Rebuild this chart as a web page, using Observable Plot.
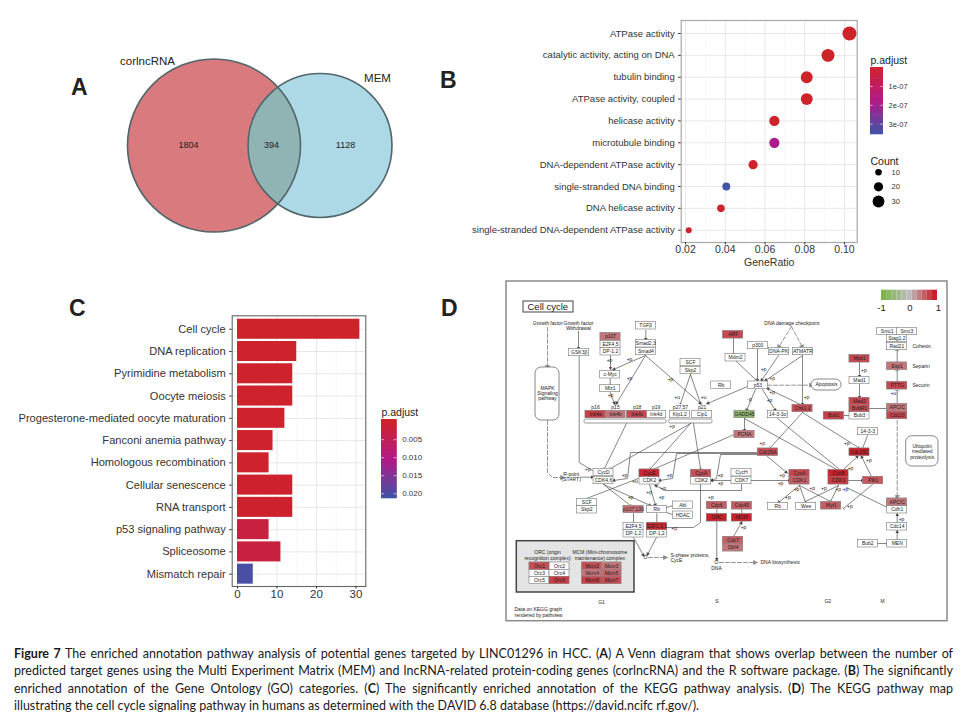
<!DOCTYPE html>
<html><head><meta charset="utf-8">
<script src="https://cdn.jsdelivr.net/npm/d3@7"></script>
<script src="https://cdn.jsdelivr.net/npm/@observablehq/plot@0.6"></script>
<style>
html,body{margin:0;padding:0;background:#fff;}
#page{position:relative;width:962px;height:722px;overflow:hidden;font-family:"Liberation Sans",Arial,sans-serif;}
#page>svg,#page>figure{position:absolute;margin:0;background:transparent;overflow:visible;}
.letter{position:absolute;font:bold 23px "Liberation Sans",Arial,sans-serif;color:#222;line-height:1;}
#caption{position:absolute;left:14px;top:645px;width:939px;font:12.5px/17.4px Lato,"Open Sans",sans-serif;color:#1a1a1a;}
#caption div{text-align:justify;text-align-last:justify;white-space:nowrap;}
#caption div:last-child{text-align-last:left;}
</style></head><body><div id="page"></div>
<script>
// ---------- Panel A: Venn ----------
const vennSets = ["corlncRNA","MEM"];
const vennTotals = [2198,1522];
const vennCx = [213.5,319.5];
const vennCy = [145,145];
const vennColors = ["#d97a7e","#add8e6"];
const vennOverlapColor = "#90b4b4";
const vennLabels = ["corlncRNA","MEM"];
const vennLabelX = [147,377];
const vennLabelY = [61,78];
const vennCounts = [1804,394,1128];
const vennCountX = [188,271,345];

// ---------- Panel B: GO dot plot ----------
const goTerms = ["ATPase activity","catalytic activity, acting on DNA","tubulin binding","ATPase activity, coupled","helicase activity","microtubule binding","DNA-dependent ATPase activity","single-stranded DNA binding","DNA helicase activity","single-stranded DNA-dependent ATPase activity"];
const goRatio = [0.1025,0.0917,0.081,0.081,0.0647,0.0647,0.054,0.0405,0.0378,0.0216];
const goCount = [38,34,30,30,24,24,20,15,14,8];
const goP = [1e-9,1e-9,2e-9,2e-9,3e-9,1.85e-7,4e-9,3.5e-7,8e-9,1.2e-8];
const goXTicks = [0.02,0.04,0.06,0.08,0.10];
const goXMinor = [0.03,0.05,0.07,0.09];
const countLegend = [10,20,30];
const goPTicks = [1e-7,2e-7,3e-7];

// ---------- Panel C: KEGG bars ----------
const keggTerms = ["Cell cycle","DNA replication","Pyrimidine metabolism","Oocyte meiosis","Progesterone-mediated oocyte maturation","Fanconi anemia pathway","Homologous recombination","Cellular senescence","RNA transport","p53 signaling pathway","Spliceosome","Mismatch repair"];
const keggCount = [31,15,14,14,12,9,8,14,14,8,11,4];
const keggP = [0.0002,0.0003,0.0004,0.0004,0.0005,0.0005,0.0005,0.0006,0.0006,0.0025,0.0025,0.0205];
const keggTicks = [0,10,20,30];
const keggMinor = [5,15,25];
const keggPTicks = [0.005,0.010,0.015,0.020];

// ---------- Panel D: KEGG cell-cycle map (name, x, y, expression) ----------
const pathwayNodes = [
["GSK3β",578.7,352,null],["p107",610,336.3,.45],["E2F4,5",610,344,null],["DP-1,2",610,351.3,null],
["TGFβ",645.3,325.3,null],["Smad2,3",645.3,343.3,null],["Smad4",645.3,351,null],
["c-Myc",609.7,374.3,null],["Miz1",609.7,388,null],["SCF",690,362,null],["Skp2",690,370,null],
["Rb",720.7,384.7,null],["ARF",732.7,334.3,.75],["Mdm2",735,357.3,null],
["Ink4a",595,414,.8],["Ink4b",615,414,.45],["Ink4c",636.7,414,.75],["Ink4d",655.7,414,null],
["Kip1,2",679.3,414,null],["Cip1",701.7,414,null],
["p300",757.3,345,null],["DNA-PK",778.3,351,null],["ATMATR",802.3,351,null],["p53",757.3,384.7,null],
["GADD45",744,414,-.7],["14-3-3σ",777.3,414,null],["Chk1,2",802,408,.7],["PCNA",744,434,.45],["Cdc25A",767.3,451.7,.7],
["Mps1",859,358.3,.75],["Mad1",859,380,null],["Mad2",859,401,.75],["BubR1",859,408,.7],["Bub3",859,415.3,null],["Bub1",833.3,415.3,.8],
["14-3-3",867.3,431,null],["Cdc25C",859,451.7,1],
["Smc1",886.7,331,null],["Smc3",906.3,331,null],["Stag1,2",896.3,338,null],["Rad21",896.3,346,null],
["Esp1",896.7,365.7,.45],["PTTG",896.7,385.3,.75],["APC/C",896.7,407.3,.45],["Cdc20",896.7,415,.75],
["CycD",603,472,null],["CDK4,6",603,480,null],["CycE",649,472.7,.95],["CDK2",649,480.3,null],
["CycA",700.7,473,.7],["CDK2",700.7,480.3,null],["CycH",741,472.3,null],["CDK7",741,480,null],
["CycA",799,473,.75],["CDK1",799,480.3,.6],["CycB",838,473.3,1],["CDK1",838,480.3,.85],["Plk1",872.7,480,.65],
["Rb",777.3,506,null],["Wee",805.7,506,null],["Myt1",830.7,505.3,.6],
["SCF",586.3,502,null],["Skp2",586.3,509.3,null],["p107,130",633,509,.45],["Rb",656.3,509,null],["Abl",682.3,504.7,null],["HDAC",682.3,514.7,null],
["E2F4,5",633,526,null],["DP-1,2",633,533.3,null],["E2F1,2,3",656.3,526,.95],["DP-1,2",656.3,533.3,null],
["Cdc6",716.3,505,.6],["ORC",716.3,517.3,1],["Cdc45",741.3,505.3,.6],["MCM",741.3,517.3,1],["Cdc7",732.7,540,.6],["Dbf4",732.7,547.3,.45],
["APC/C",896.7,501.7,.45],["Cdh1",896.7,509.3,null],["Cdc14",896.7,526.3,null],["MEN",896.7,543.3,null],["Bub2",867.3,543.3,null],
["Orc1",539,565.7,.7],["Orc2",559,565.7,null],["Orc3",539,573,null],["Orc4",559,573,null],["Orc5",539,580,null],["Orc6",559,580,.8],
["Mcm2",591.7,565.7,.7],["Mcm3",611,565.7,.45],["Mcm4",591.7,573,.45],["Mcm5",611,573,.55],["Mcm6",591.7,580,.8],["Mcm7",611,580,.7]
];
const pathwayLabels = [
["Growth factor",547.3,323.3],["Growth factor",578,323],["Withdrawal",578,327.7],
["MAPK",547,388],["Signaling",547,393],["pathway",547,398],
["p16",595,407.3],["p15",615,407.3],["p18",636.7,407.3],["p19",655.7,407.3],["p27,57",680,407.3],["p21",701.7,407.3],
["DNA damage checkpoint",791.3,323.3],["Apoptosis",826,384.3],
["Ubiquitin",921.7,446],["mediated",921.7,451],["proteolysis",921.7,457],
["R-point",570.7,474.3],["(START)",570.7,479],
["ORC (origin",547,552],["recognition complex)",547,558.3],["MCM (Mini-chromosome",599.3,552],["maintenance) complex",599.3,558.3],
["DNA",716,567.7],["O",645,557.3],["O",716,562],
["G1",601,601.7],["S",716.3,601],["G2",827.3,601],["M",882,601]
];
const pathwayLeftLabels = [
["Cohesin",912,346],["Separin",912,366],["Securin",912,385.3],
["S-phase proteins,",670,555.3],["CycE",670,560],["DNA biosynthesis",760,562.3],
["Data on KEGG graph",514,609],["rendered by pathview",514,615]
];
const arrowEdges = [
[[578,331],[578,348]],[[610,355],[610,368]],[[645,355],[613,369]],[[645.3,330],[645.3,339]],[[645,355],[616,403]],[[645,355],[700,403]],
[[609.7,392],[614,403]],[[747,386],[707,403]],[[757,349],[757,380]],[[778,355],[761,380]],[[802,355],[765,380]],[[802,355],[802,404]],
[[800,404],[767,388]],[[755,389],[746,410]],[[762,389],[775,410]],[[744,418],[744,430]],[[767,456],[786,472]],
[[751,480],[789,480]],[[731,480],[711,480]],[[741,484],[741,490],[665,490],[655,485]],
[[649,484],[655,505]],[[603,484],[650,505]],[[757,452],[630,452],[627,478],[613,480]],[[757,453],[676,453],[672,478],[659,480]],[[757,454],[720,454],[716,478],[711,480]],
[[633,537],[643,555]],[[656,537],[647,554]],[[716.3,521],[716.3,559]],[[733,536],[741,522]],
[[799,485],[778,502]],[[848,480],[862,480]],[[843,469],[857,456]],[[871,476],[861,456]],
[[859,362],[859,376]],[[859,384],[859,397]],[[896.7,522],[896.7,514]],[[896.7,539],[896.7,531]],[[580,476.7],[592,476.7]]
];
const teeEdges = [
[[609.7,378],[609.7,384]],[[690,374],[680,403]],[[690,374],[700,403]],[[735,360],[755,379]],[[733,338],[733,353]],
[[802,412],[770,447]],[[802,412],[858,447]],[[626,423],[604,468]],[[690,423],[610,468]],[[690,423],[650,468]],[[693,423],[700,468]],
[[603,484],[630,505]],[[656.3,513],[656.3,522]],[[633,513],[633,522]],[[867,435],[862,448]],[[869,408],[886,408]],
[[896.7,362],[896.7,350]],[[896.7,381],[896.7,370]],[[896.7,403],[896.7,390]],[[877,543],[886,543]],
[[799,485],[805,502]],[[799,485],[830,501]],[[838,485],[805,501]],[[838,485],[830,501]],[[846,487],[887,507]],[[872,484],[843,508]]
];
const plainEdges = [
[[578.7,356],[578.7,462],[592,470]],[[744,418],[838,470]],[[777,418],[838,468]],[[586,498],[638,478]],
[[700,484],[700,522],[693,527],[666,527]],[[666,507],[673,505]],[[666,512],[672,514]],[[716.3,509],[716.3,513]],[[741.3,509],[741.3,513]],[[843,415],[849,415]],[[734,434],[650,470]]
];
const dashedEdges = [
[[547,327],[547,367]],[[547,420],[547,472],[552,477],[562,477]],[[791,326],[778,347]],[[791,326],[802,347]],[[767,384.7],[811,384.7]],
[[648,557],[665,557]],[[719,562],[755,562]],[[896.7,420],[896.7,497]]
];
const edgeSigns = [
["+p",609,360],["+p",629,359],["+p",629,378],["+p",670,379],["+p",610,395],["+u",676.7,396.7],["+u",703,396.7],["+p",671.7,426],
["+p",763,368.7],["+p",771.7,378.3],["+p",771.7,391.7],["+p",806,396.7],["-p",749,399],["+p",769,400],["+p",863.3,369.7],["+u",893,393.3],["+p",761.7,442.7],["+p",846.3,442.7],
["+p",587.3,468.7],["+p",624,475],["+u",634.3,480.7],["+p",669,475],["+p",720,475],["+p",720,483.3],["+p",662.7,488.3],["+p",630,496.7],["+p",648.7,491.7],["+p",661,496.7],["+p",710.3,497.3],["+p",673.7,528.3],["+p",743,527.3],
["+p",781.7,475],["+p",780,483.3],["+p",796,489.3],["+p",787.3,497.3],["+p",811.7,488.3],["+p",823.3,488.3],["+p",837.7,489.3],["+p",845,489.3],["+p",849.3,506],["+p",850,467.7],["+p",868.3,460.3],["+p",901,518.7]
];
const stripValues = [-1,-.8,-.6,-.4,-.2,0,.2,.4,.6,.8,1];
const stripTicks = [-1,0,1];

// ---------- helpers ----------
const page = document.getElementById("page");
function place(node,left,top){node.style.left=left+"px";node.style.top=top+"px";page.appendChild(node);return node;}
const font = {fontFamily:'"Liberation Sans",Arial,sans-serif',background:"transparent",overflow:"visible"};
const pRed="#cf2329",pMid="#b31a87",pBlue="#3f54a6";
const ink="#333";

// ---------- A ----------
const vennRows = vennSets.map((s,i)=>({s,n:vennTotals[i],x:vennCx[i],y:vennCy[i]}));
function vennLens(index,{x,y,r}){
  const g=d3.create("svg:g");
  g.append("clipPath").attr("id","venn-left").append("circle").attr("cx",x(vennRows[0].x)).attr("cy",y(vennRows[0].y)).attr("r",r(vennRows[0].n));
  g.append("circle").attr("cx",x(vennRows[1].x)).attr("cy",y(vennRows[1].y)).attr("r",r(vennRows[1].n)).attr("fill",vennOverlapColor).attr("clip-path","url(#venn-left)");
  return g.node();
}
place(Plot.plot({width:350,height:210,margin:0,style:font,
  x:{domain:[60,410],range:[0,350],axis:null},y:{domain:[40,250],range:[0,210],axis:null},
  r:{type:"sqrt",domain:[0,2198],range:[0,86.5]},
  color:{domain:vennSets,range:vennColors},
  marks:[
    Plot.dot(vennRows,{x:"x",y:"y",r:"n",fill:"s"}),
    vennLens,
    Plot.dot(vennRows,{x:"x",y:"y",r:"n",fill:"none",stroke:"#50666a",strokeWidth:1.6}),
    Plot.text(vennLabels,{x:(d,i)=>vennLabelX[i],y:(d,i)=>vennLabelY[i],text:d=>d,fontSize:11.5,fill:"#222"}),
    Plot.text(vennCounts,{x:(d,i)=>vennCountX[i],y:145,text:d=>String(d),fontSize:9,fill:"#222"})
  ]}),60,40);

// ---------- B ----------
const goRows = goTerms.map((t,i)=>({t,x:goRatio[i],n:goCount[i],p:goP[i]}));
const goColor = {type:"linear",domain:[0,1.75e-7,3.55e-7],range:[pRed,pMid,pBlue],interpolate:"rgb"};
const goR = {type:"linear",domain:[8,38],range:[3,7]};
place(Plot.plot({width:430,height:265,marginLeft:240.7,marginRight:13.3,marginTop:10,marginBottom:33,style:font,
  x:{domain:[0.0178,0.1064]},
  y:{type:"point",domain:goTerms,range:[23,219.7],padding:0,round:false},
  color:goColor,r:goR,
  marks:[
    Plot.ruleX(goXMinor,{stroke:"#f3f3f3",strokeWidth:.7}),
    Plot.ruleX(goXTicks,{stroke:"#e8e8e8",strokeWidth:1}),
    Plot.ruleY(goTerms,{stroke:"#e8e8e8",strokeWidth:1}),
    Plot.frame({stroke:"#a8a8a8",strokeWidth:1.2}),
    Plot.dot(goRows,{x:"x",y:"t",r:"n",fill:"p"}),
    Plot.axisX({ticks:goXTicks,tickFormat:".2f",tickSize:2.5,tickPadding:1,fontSize:10.5,color:ink,label:"GeneRatio",labelAnchor:"center",labelArrow:"none",labelOffset:23}),
    Plot.axisY({tickSize:2.5,tickPadding:4,fontSize:9.5,color:"#333",label:null})
  ]}),440,10);

function colorbar({left,top,width,height,domain,ticks,fmt,color,title,fontSize}){
  const dv=(domain[1]-domain[0])/60;
  const steps = d3.range(60).map(i=>({a:domain[0]+dv*i,b:domain[0]+dv*(i+1)+(i<59?dv*.6:0),m:domain[0]+dv*(i+.5)}));
  place(Plot.plot({width:width+50,height:height+16,marginLeft:0,marginRight:50,marginTop:16,marginBottom:0,style:font,
    x:{domain:[0,1],axis:null},y:{domain,reverse:true,axis:null},color,
    marks:[
      Plot.rect(steps,{x1:0,x2:1,y1:"a",y2:"b",fill:"m"}),
      Plot.ruleY(ticks,{x1:0,x2:.2,stroke:"#fff",strokeWidth:.6}),
      Plot.ruleY(ticks,{x1:.8,x2:1,stroke:"#fff",strokeWidth:.6}),
      Plot.text(ticks,{x:1,y:d=>d,dx:5,textAnchor:"start",text:d=>fmt(d),fontSize,fill:"#333"}),
      Plot.text([title],{frameAnchor:"top-left",dy:-11,textAnchor:"start",text:d=>d,fontSize:10.5,fill:"#222"})
    ]}),left,top-16);
}
colorbar({left:870,top:66.7,width:13,height:67.3,domain:[0,3.56e-7],ticks:goPTicks,
  fmt:d=>`${Math.round(d*1e7)}e-07`,color:goColor,title:"p.adjust",fontSize:7.5});

place(Plot.plot({width:70,height:62,margin:0,style:font,
  x:{domain:[0,70],range:[0,70],axis:null},y:{type:"point",domain:countLegend,range:[24.7,54],padding:0,round:false,axis:null},r:goR,
  marks:[
    Plot.dot(countLegend,{x:8,y:d=>d,r:d=>d,fill:"#000"}),
    Plot.text(countLegend,{x:21,y:d=>d,text:d=>String(d),fontSize:7.5,textAnchor:"start",fill:"#333"}),
    Plot.text(["Count"],{text:d=>d,textAnchor:"start",frameAnchor:"top-left",dy:10,fontSize:10.5,fill:"#222"})
  ]}),870,147);

// ---------- C ----------
const keggRows = keggTerms.map((t,i)=>({t,n:keggCount[i],p:keggP[i]}));
const keggColor = {type:"linear",domain:[0,0.0105,0.0214],range:[pRed,pMid,pBlue],interpolate:"rgb"};
place(Plot.plot({width:370,height:300,marginLeft:231.7,marginRight:4.7,marginTop:15.3,marginBottom:14,style:font,
  x:{domain:[-1.344,32.5]},
  y:{type:"band",domain:keggTerms,range:[16.5,285.9],padding:.1,round:false},
  color:keggColor,
  marks:[
    Plot.ruleX(keggMinor,{stroke:"#f3f3f3",strokeWidth:.7}),
    Plot.ruleX(keggTicks,{stroke:"#e8e8e8",strokeWidth:1}),
    Plot.ruleY(keggTerms,{y:d=>d,stroke:"#e8e8e8",strokeWidth:1}),
    Plot.barX(keggRows,{x:"n",y:"t",fill:"p"}),
    Plot.frame({stroke:"#666",strokeWidth:1.1}),
    Plot.axisX({ticks:keggTicks,tickSize:2.5,tickPadding:1,fontSize:11.5,color:ink,label:null}),
    Plot.axisY({tickSize:2.5,tickPadding:4,fontSize:11.1,color:"#333",label:null})
  ]}),0,300);
colorbar({left:381.3,top:418.7,width:15.7,height:79.3,domain:[-0.0006,0.0214],ticks:keggPTicks,
  fmt:d3.format(".3f"),color:keggColor,title:"p.adjust",fontSize:8});

// ---------- D ----------
const toRows = edges => edges.flatMap((e,id)=>e.map(([x,y])=>({id,x,y})));
const nodeRows = pathwayNodes.map(([name,x,y,v])=>({name,x,y,v}));
const nW=10,nH=3.7;
const koColor = {type:"linear",domain:[-1,0,1],range:["#7db54a","#bdbdbd","#c9202a"],interpolate:"rgb"};
const lineOpts = {x:"x",y:"y",z:"id",stroke:"#444",strokeWidth:.65,curve:"linear"};
const txt = {fill:"#222",fontSize:5};
const solidArrow = (color)=>d3.create("svg:marker").attr("viewBox","-5 -5 10 10").attr("markerWidth",6).attr("markerHeight",6).attr("orient","auto").attr("fill",color)
  .call(m=>m.append("path").attr("d","M-4,-4L4,0L-4,4Z")).node();
place(Plot.plot({width:455,height:352,margin:0,style:font,
  x:{domain:[500,955],range:[0,455],axis:null},y:{domain:[275,627],range:[0,352],axis:null},color:koColor,
  marks:[
    Plot.rect([[506,947,281,620.7]],{x1:d=>d[0],x2:d=>d[1],y1:d=>d[2],y2:d=>d[3],fill:"#fff",stroke:"#8a8a8a",strokeWidth:1.5}),
    Plot.rect([[516.3,634,540.7,592]],{x1:d=>d[0],x2:d=>d[1],y1:d=>d[2],y2:d=>d[3],fill:"#e4e4e4",stroke:"#444",strokeWidth:1.5}),
    Plot.rect([[523,573,301,312]],{x1:d=>d[0],x2:d=>d[1],y1:d=>d[2],y2:d=>d[3],fill:"#fff",stroke:"#444",strokeWidth:1}),
    Plot.line(toRows(plainEdges),lineOpts),
    Plot.line(toRows(arrowEdges),{...lineOpts,markerEnd:solidArrow}),
    Plot.line(toRows(teeEdges),{...lineOpts,markerEnd:"tick"}),
    Plot.line(toRows(dashedEdges),{...lineOpts,stroke:"#888",strokeDasharray:"4,2",strokeWidth:.9,markerEnd:solidArrow}),
    Plot.rect([[535,559,367,420],[811,841,379,390],[905.7,938,435.7,466]],{x1:d=>d[0],x2:d=>d[1],y1:d=>d[2],y2:d=>d[3],fill:"#fff",stroke:"#555",strokeWidth:.7,rx:6}),
    Plot.rect([[584,666,419,423],[668.7,712,419,423]],{x1:d=>d[0],x2:d=>d[1],y1:d=>d[2],y2:d=>d[3],fill:"#fff",stroke:"#555",strokeWidth:.6,rx:1.5}),
    Plot.rect(nodeRows,{x1:d=>d.x-nW,x2:d=>d.x+nW,y1:d=>d.y-nH,y2:d=>d.y+nH,fill:"#fff",stroke:"#777",strokeWidth:.6}),
    Plot.rect(nodeRows.filter(d=>d.v!=null),{x1:d=>d.x-nW,x2:d=>d.x+nW,y1:d=>d.y-nH,y2:d=>d.y+nH,fill:"v",stroke:"#888",strokeWidth:.4}),
    Plot.text(nodeRows,{x:"x",y:"y",text:"name",...txt}),
    Plot.text(pathwayLabels,{x:d=>d[1],y:d=>d[2],text:d=>d[0],...txt}),
    Plot.text(pathwayLeftLabels,{x:d=>d[1],y:d=>d[2],text:d=>d[0],textAnchor:"start",...txt}),
    Plot.text(edgeSigns,{x:d=>d[1],y:d=>d[2],text:d=>d[0],...txt}),
    Plot.text(["Cell cycle"],{x:527,y:306.5,textAnchor:"start",text:d=>d,fontSize:9.5,fill:"#222"}),
    Plot.rect(stripValues,{x1:(d,i)=>881+i*56/11,x2:(d,i)=>881+(i+1)*56/11,y1:289.7,y2:300,fill:d=>d}),
    Plot.text(stripTicks,{x:d=>909.5+d*28.5,y:307.3,text:d=>String(d),fontSize:9.5,fill:"#222"})
  ]}),500,275);

// ---------- letters & caption ----------
[["A",71,76],["B",440,69],["C",69,297],["D",441,297]].forEach(([t,x,y])=>{
  const d=document.createElement("div");d.className="letter";d.textContent=t;d.style.left=x+"px";d.style.top=y+"px";page.appendChild(d);
});
const cap=document.createElement("div");cap.id="caption";
cap.innerHTML=`<div><b>Figure 7</b> The enriched annotation pathway analysis of potential genes targeted by LINC01296 in HCC. (<b>A</b>) A Venn diagram that shows overlap between the number of</div>
<div>predicted target genes using the Multi Experiment Matrix (MEM) and lncRNA-related protein-coding genes (corlncRNA) and the R software package. (<b>B</b>) The significantly</div>
<div>enriched annotation of the Gene Ontology (GO) categories. (<b>C</b>) The significantly enriched annotation of the KEGG pathway analysis. (<b>D</b>) The KEGG pathway map</div>
<div>illustrating the cell cycle signaling pathway in humans as determined with the DAVID 6.8 database (https://david.ncifc rf.gov/).</div>`;
page.appendChild(cap);
</script></body></html>
